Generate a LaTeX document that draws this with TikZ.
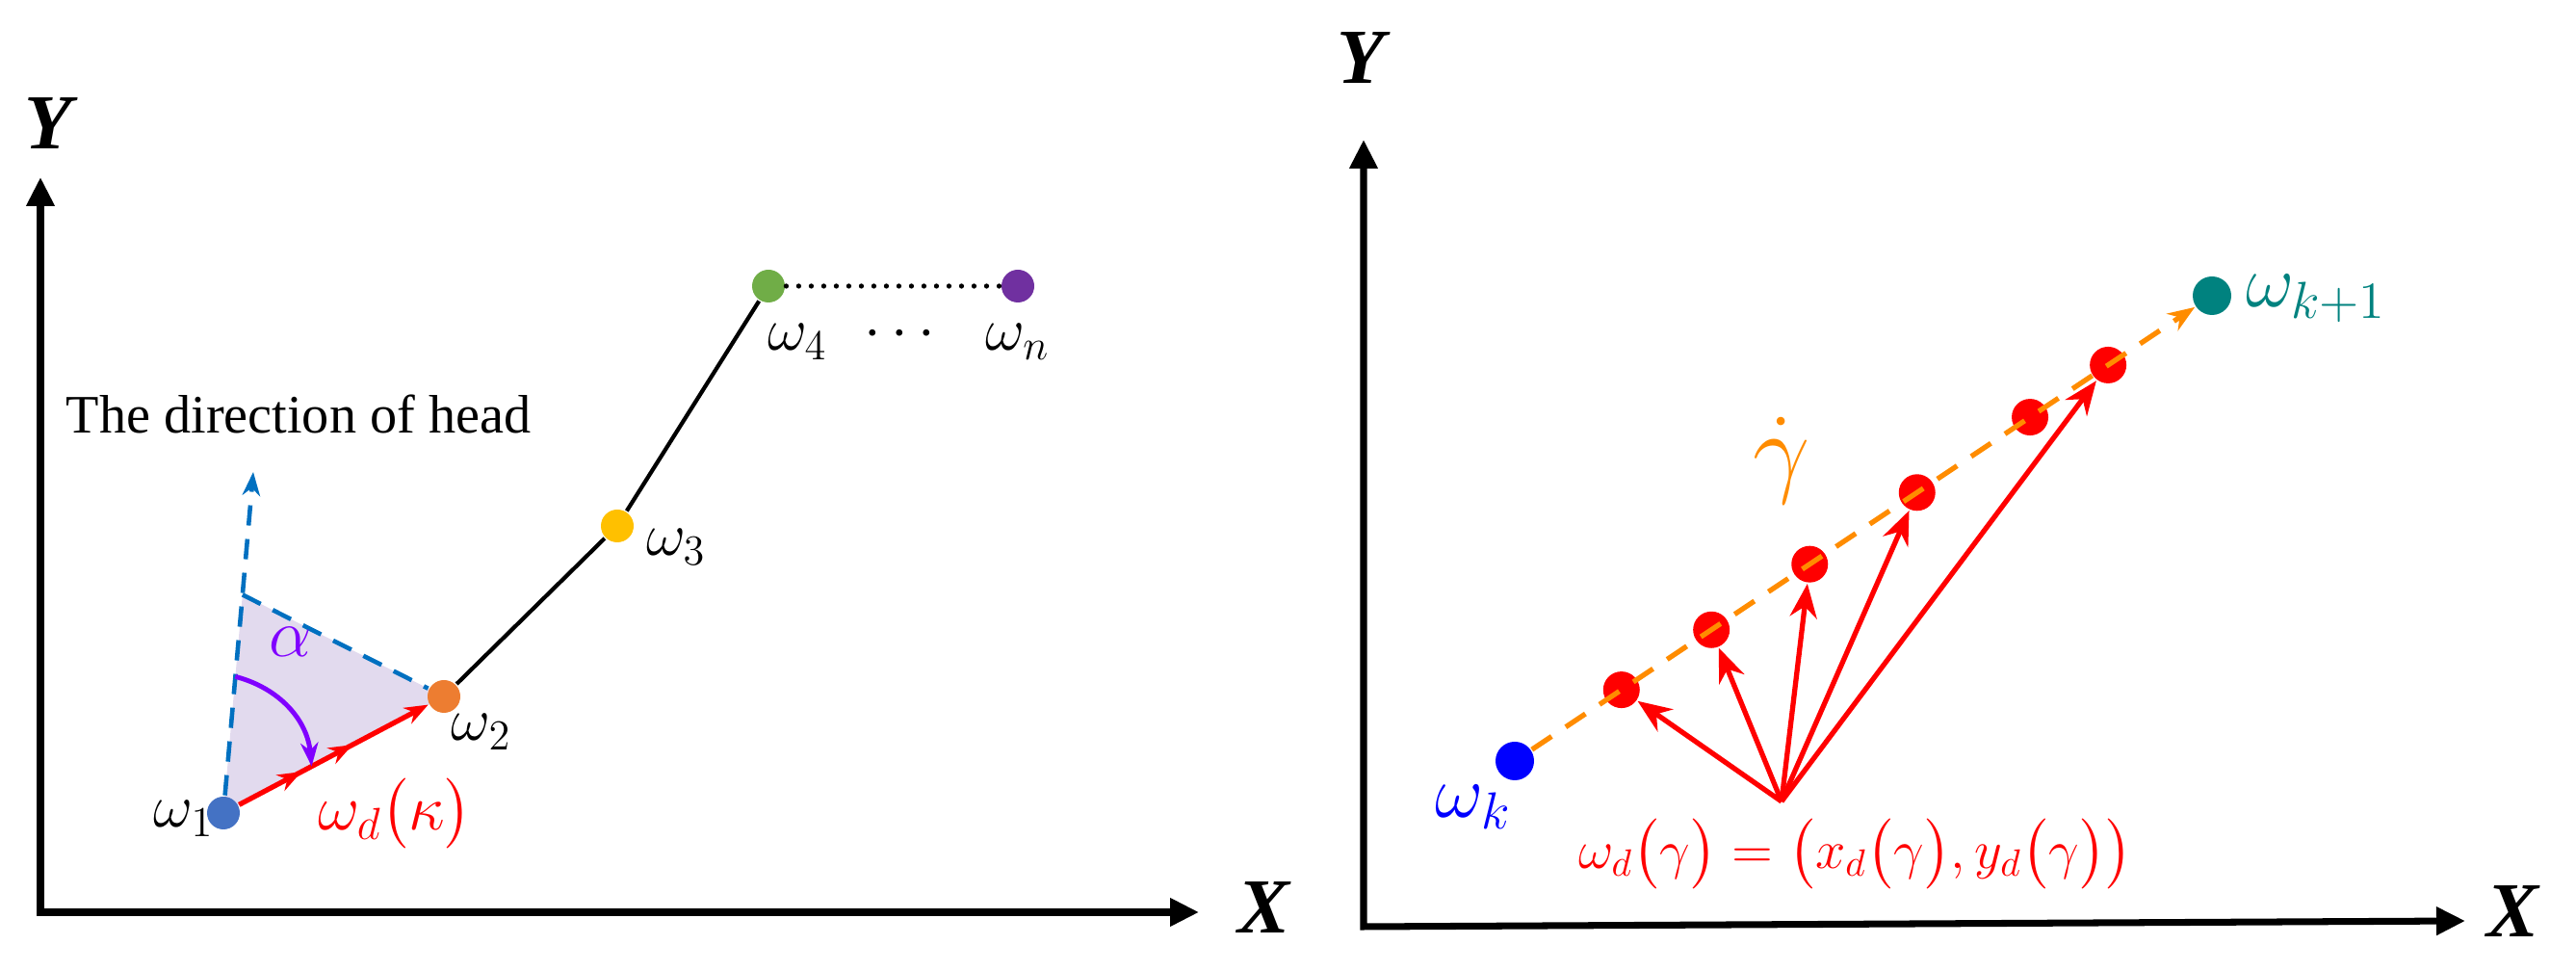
\RequirePackage{fix-cm}
\documentclass[tikz,border=0pt]{standalone}
\usepackage{amsmath}
\usepackage{fontspec}
\setmainfont{Liberation Serif}
\usetikzlibrary{arrows.meta,calc,decorations.markings,backgrounds}

\definecolor{hblue}{HTML}{0070C0}
\definecolor{cblue}{HTML}{4472C4}
\definecolor{corange}{HTML}{ED7D31}
\definecolor{cgold}{HTML}{FFC000}
\definecolor{cgreen}{HTML}{70AD47}
\definecolor{cpurple}{HTML}{7030A0}
\definecolor{lilac}{HTML}{E2DAEE}
\definecolor{aviolet}{HTML}{8000FF}
\definecolor{dorange}{HTML}{FF8C00}
\definecolor{cteal}{HTML}{00827F}

\tikzset{
    dot/.style={circle, fill=#1, inner sep=0pt, minimum size=0.34cm},
    rdot/.style={circle, fill=red, inner sep=0pt, minimum size=0.38cm},
    axis/.style={line width=2pt, {Triangle[length=0.3cm, width=0.28cm]}-{Triangle[length=0.3cm, width=0.28cm]}},
    axlbl/.style={font=\fontsize{23}{26}\selectfont\bfseries\itshape},
    lbl/.style={font=\fontsize{18}{20}\selectfont},
    bigmath/.style={font=\fontsize{22}{24}\selectfont},
}

\begin{document}
\begin{tikzpicture}[>=Stealth, thick]
    \useasboundingbox (0,0) rectangle (26.75,10.08);

    % 左图: 坐标轴
    \coordinate (Y1) at (0.42,8.24);
    \coordinate (O1) at (0.42,0.61);
    \coordinate (X1) at (12.45,0.61);
    \draw[axis] (Y1) -- (O1) -- (X1);
    \node[axlbl] (Y1lbl) at (0.50,8.80) {Y};
    \node[axlbl] (X1lbl) at (13.12,0.66) {X};

    % 路径点
    \node[dot=cblue] (w1) at (2.32,1.64) {};
    \node[dot=corange] (w2) at (4.61,2.85) {};
    \node[dot=cgold] (w3) at (6.41,4.62) {};
    \node[dot=cgreen] (w4) at (7.98,7.11) {};
    \node[dot=cpurple] (wn) at (10.57,7.11) {};

    % 航向 (虚线) 与夹角区域
    \coordinate (tip) at (2.63,5.18);
    \coordinate (apex) at ($(w1)!0.64!(tip)$);
    \begin{scope}[on background layer]
        \fill[lilac] (w1.center) -- (apex) -- (w2.center) -- cycle;
    \end{scope}
    \draw[hblue, line width=1.3pt, dash pattern=on 6pt off 4pt, -{Stealth[length=7pt]}] (w1) -- (tip);
    \draw[hblue, line width=1.3pt, dash pattern=on 6pt off 4pt] (apex) -- (w2);
    \node[font=\fontsize{16}{18}\selectfont] (head) at (3.10,5.78) {The direction of head};

    % 折线
    \draw[line width=1.2pt] (w2) -- (w3) -- (w4);
    \draw[line width=1.5pt, line cap=round, dash pattern=on 0pt off 3.7pt] (w4) -- (wn);

    % 红色箭头 w1 -> w2
    \draw[red, line width=1.5pt, -{Stealth[length=7pt]}, postaction={decorate},
        decoration={markings, mark=at position 0.33 with {\arrow{Stealth[length=7pt]}},
        mark=at position 0.6 with {\arrow{Stealth[length=7pt]}}}] (w1) -- (w2);

    % 夹角 alpha
    \coordinate (as) at ($(w1)!0.40!(tip)$);
    \coordinate (ae) at ($(w1)!0.40!(w2)$);
    \draw[aviolet, line width=1.4pt, -{Stealth[length=7pt]}] (as) to[bend left=35] (ae);
    \node[font=\fontsize{20}{22}\selectfont, text=aviolet] (alpha) at (3.02,3.42) {$\alpha$};

    % 标注
    \node[lbl] (w1lbl) at (1.91,1.58) {$\omega_1$};
    \node[lbl] (w2lbl) at (5.00,2.48) {$\omega_2$};
    \node[lbl] (w3lbl) at (7.02,4.40) {$\omega_3$};
    \node[lbl] (w4lbl) at (8.28,6.53) {$\omega_4$};
    \node[lbl] (dots) at (9.40,6.61) {$\cdots$};
    \node[lbl] (wnlbl) at (10.57,6.53) {$\omega_n$};
    \node[font=\fontsize{19}{21}\selectfont, text=red] (kappa) at (4.10,1.63) {$\omega_d\bigl(\kappa\bigr)$};

    % 右图: 坐标轴
    \coordinate (Y2) at (14.16,8.63);
    \coordinate (O2) at (14.16,0.46);
    \coordinate (X2) at (25.60,0.52);
    \draw[axis] (Y2) -- (O2) -- (X2);
    \node[axlbl] (Y2lbl) at (14.13,9.48) {Y};
    \node[axlbl] (X2lbl) at (26.09,0.62) {X};

    % 起点与终点
    \node[dot=blue, minimum size=0.4cm] (wk) at (15.73,2.18) {};
    \node[dot=cteal, minimum size=0.4cm] (wk1) at (22.97,7.01) {};

    % 插值点
    \foreach \t [count=\i] in {0.153,0.282,0.423,0.577,0.739,0.851} {
        \node[rdot] (r\i) at ($(wk)!\t!(wk1)$) {};
    }
    \draw[dorange, line width=1.5pt, dash pattern=on 7pt off 5pt, -{Stealth[length=8pt]}] (wk) -- (wk1);

    % 指向插值点的箭头
    \coordinate (src) at (18.50,1.76);
    \foreach \i in {1,2,3,4,6} {
        \draw[red, line width=1.5pt, -{Stealth[length=10pt, width=8pt]}] (src) -- (r\i);
    }

    % 标注
    \node[bigmath, text=blue] (wklbl) at (15.30,1.70) {$\omega_k$};
    \node[bigmath, text=cteal] (wk1lbl) at (24.05,6.98) {$\omega_{k+1}$};
    \node[font=\fontsize{30}{32}\selectfont, text=dorange] (gdot) at (18.50,5.30) {$\dot{\gamma}$};
    \node[font=\fontsize{16}{18}\selectfont, text=red] (eq) at (19.27,1.21)
        {$\omega_d\bigl(\gamma\bigr)=\bigl(x_d\bigl(\gamma\bigr),y_d\bigl(\gamma\bigr)\bigr)$};
\end{tikzpicture}
\end{document}
